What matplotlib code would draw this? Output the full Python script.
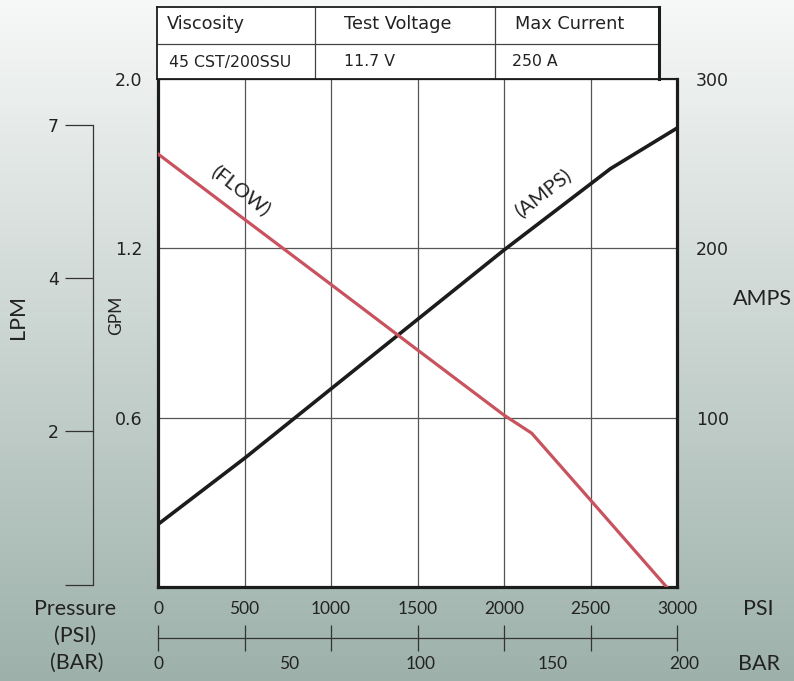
import numpy as np
import matplotlib
matplotlib.use("Agg")
import matplotlib.pyplot as plt
from matplotlib import font_manager

# values
psi_flow = [0, 500, 1000, 1500, 2000, 2160, 2500, 2940]
flow_gpm = [1.646, 1.337, 1.072, 0.840, 0.609, 0.545, 0.308, 0.0]

psi_amps = [0, 500, 1000, 1500, 2000, 2500, 2615, 3000]
amps = [37, 76, 117, 158, 199, 238, 247, 271]

psi_ticks = [0, 500, 1000, 1500, 2000, 2500, 3000]
bar_ticks = [0, 50, 100, 150, 200]
gpm_ticks = [0.6, 1.2, 2.0]
amp_ticks = [100, 200, 300]
lpm_labels = ["2", "4", "7"]

table_head = ["Viscosity", "Test Voltage", "Max Current"]
table_vals = ["45 CST/200SSU", "11.7 V", "250 A"]


def pick(*names):
    for n in names:
        try:
            font_manager.findfont(n, fallback_to_default=False)
            return n
        except ValueError:
            pass
    return "DejaVu Sans"


hum = pick("Lato", "Open Sans", "Noto Sans")
narrow = pick("Liberation Sans Narrow", "Lato")
num = "DejaVu Sans"

W, H = 794, 681
fig = plt.figure(figsize=(W / 100, H / 100), dpi=100)


def px_axes(x0, y0, x1, y1, **kw):
    return fig.add_axes([x0 / W, 1 - y1 / H, (x1 - x0) / W, (y1 - y0) / H], **kw)


# background gradient
bg = fig.add_axes([0, 0, 1, 1], zorder=-10)
top = np.array([247, 248, 248]) / 255
bot = np.array([157, 177, 170]) / 255
t = np.linspace(0, 1, 256)[:, None, None]
bg.imshow(top + (bot - top) * t, aspect="auto", extent=[0, 1, 0, 1])
bg.axis("off")

# main plot
ax = px_axes(158, 79, 677, 587)
ax.set_facecolor("white")
ax.set_xlim(0, 3000)
ax.set_ylim(0, 300)
ax.set_xticks(psi_ticks)
ax.tick_params(axis="x", length=0, labelbottom=False)
ax.grid(True, color="#555555", lw=0.9)
ax.set_axisbelow(True)
ax.plot(psi_amps, amps, color="#1c1c1c", lw=2.6, solid_joinstyle="miter")
for s in ["left", "right", "bottom"]:
    ax.spines[s].set_linewidth(2.3)
ax.spines["top"].set_linewidth(1.5)
for s in ax.spines.values():
    s.set_color("#1c1c1c")

fwd_x = [-1, 0, 0.6, 1.2, 2.0, 3.0]
fwd_y = [-1 / 0.6, 0, 1, 2, 3, 4.25]
axg = ax.twinx()
axg.set_yscale("function", functions=(lambda v: np.interp(v, fwd_x, fwd_y),
                                      lambda v: np.interp(v, fwd_y, fwd_x)))
axg.set_ylim(0, 2.0)
axg.plot(psi_flow, flow_gpm, color="#c8535e", lw=2.3)
for s in axg.spines.values():
    s.set_visible(False)

ax.yaxis.tick_right()
ax.set_yticks(amp_ticks, [str(v) for v in amp_ticks])
ax.tick_params(axis="y", length=0, pad=13.5, labelsize=12.5, labelcolor="#222")
axg.yaxis.tick_left()
axg.set_yticks(gpm_ticks, ["%.1f" % v for v in gpm_ticks])
axg.yaxis.set_minor_locator(matplotlib.ticker.NullLocator())
axg.tick_params(axis="y", length=0, pad=11, labelsize=12.5, labelcolor="#222")
for lab in ax.get_yticklabels() + axg.get_yticklabels():
    lab.set_family(num)

ax.text(478, 234, "(FLOW)", rotation=-38, rotation_mode="anchor", ha="center",
        va="center", fontsize=14.5, family=hum, color="#222")
ax.text(2221, 233, "(AMPS)", rotation=38, rotation_mode="anchor", ha="center",
        va="center", fontsize=14.5, family=hum, color="#222")

# LPM bracket
axl = px_axes(65, 124.6, 93, 584.5)
axl.set_facecolor("none")
axl.set_ylim(0, 3)
axl.set_yticks([0, 1, 2, 3], [""] + lpm_labels)
axl.set_xticks([])
axl.tick_params(axis="y", direction="in", length=20.2, width=0.9, color="#333",
                pad=4.3, labelsize=12.5, labelcolor="#222")
for s in ["left", "top", "bottom"]:
    axl.spines[s].set_visible(False)
axl.spines["right"].set_linewidth(0.9)
axl.spines["right"].set_color("#333")

# pressure scale below plot
axp = px_axes(158, 595, 677, 681)
axp.set_facecolor("none")
axp.set_xlim(0, 3000)
axp.set_ylim(0, 1)
axp.set_yticks([])
for s in ["left", "right", "top"]:
    axp.spines[s].set_visible(False)
axp.spines["bottom"].set_position(("axes", 0.5))
axp.spines["bottom"].set_linewidth(0.9)
axp.spines["bottom"].set_color("#333")
axp.set_xticks(psi_ticks)
axp.tick_params(axis="x", direction="inout", length=19.4, width=0.9, color="#333",
                labelbottom=False)
for v in psi_ticks:
    axp.text(v, 0.837, str(v), ha="center", va="center", fontsize=12.5,
             family=narrow, color="#222")
for b in bar_ticks:
    axp.text(b * 15.2, 0.198, str(b), ha="center", va="center", fontsize=12.5,
             family=narrow, color="#222")

lbl = dict(ha="center", va="center", fontsize=15.5, family=hum, color="#222")
fig.text(75 / W, 1 - 609 / H, "Pressure", **lbl)
fig.text(75 / W, 1 - 636 / H, "(PSI)", **lbl)
fig.text(77 / W, 1 - 663 / H, "(BAR)", **lbl)
fig.text(758 / W, 1 - 609 / H, "PSI", **lbl)
fig.text(759 / W, 1 - 664 / H, "BAR", **lbl)
fig.text(762 / W, 1 - 299 / H, "AMPS", **lbl)
fig.text(18.5 / W, 1 - 317 / H, "LPM", rotation=90, **lbl)
lbl["fontsize"] = 12.5
fig.text(116.5 / W, 1 - 315 / H, "GPM", rotation=90, **lbl)

# spec table above the plot
axt = px_axes(157, 7, 659, 79)
axt.set_facecolor("white")
axt.set_xlim(157, 659)
axt.set_ylim(79, 7)
axt.set_xticks([])
axt.set_yticks([])
for s in axt.spines.values():
    s.set_linewidth(1.3)
    s.set_color("#1c1c1c")
axt.spines["right"].set_linewidth(2.2)
axt.vlines([315, 495], 7, 79, color="#444", lw=0.9)
axt.hlines(44, 157, 659, color="#444", lw=0.9)
for x, txt in zip([167, 344, 515], table_head):
    axt.text(x, 24, txt, ha="left", va="center", fontsize=12.8, family=num, color="#222")
for x, txt in zip([169, 344, 512], table_vals):
    axt.text(x, 62, txt, ha="left", va="center", fontsize=11.3, family=num, color="#222")

fig.savefig("out.png", dpi=100)
